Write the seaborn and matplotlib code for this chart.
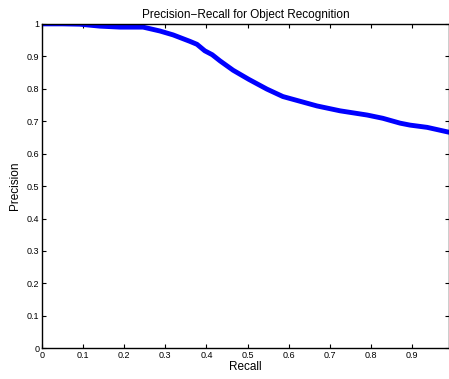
import matplotlib

matplotlib.use("Agg")
import matplotlib.pyplot as plt
import pandas as pd
import seaborn as sns

recall = [0.0, 0.05, 0.092, 0.141, 0.19, 0.246, 0.287, 0.319, 0.36, 0.377,
          0.396, 0.414, 0.433, 0.465, 0.503, 0.547, 0.586, 0.669, 0.725,
          0.791, 0.829, 0.871, 0.895, 0.937, 0.99]
precision = [1.0, 1.0, 0.999, 0.993, 0.99, 0.99, 0.978, 0.966, 0.946, 0.937,
             0.917, 0.905, 0.886, 0.857, 0.829, 0.799, 0.776, 0.747, 0.732,
             0.719, 0.709, 0.694, 0.688, 0.681, 0.666]

x_ticks = [0.0, 0.1, 0.2, 0.3, 0.4, 0.5, 0.6, 0.7, 0.8, 0.9]
x_labels = ["0", "0.1", "0.2", "0.3", "0.4", "0.5", "0.6", "0.7", "0.8", "0.9"]
y_ticks = [0.0, 0.1, 0.2, 0.3, 0.4, 0.5, 0.6, 0.7, 0.8, 0.9, 1.0]
y_labels = ["0", "0.1", "0.2", "0.3", "0.4", "0.5", "0.6", "0.7", "0.8", "0.9", "1"]

sns.set_style("ticks")
plt.rcParams["font.family"] = ["Liberation Sans", "DejaVu Sans"]
plt.rcParams["xtick.direction"] = "in"
plt.rcParams["ytick.direction"] = "in"
plt.rcParams["text.color"] = "black"
plt.rcParams["axes.labelcolor"] = "black"
plt.rcParams["xtick.color"] = "black"
plt.rcParams["ytick.color"] = "black"

data = pd.DataFrame({"Recall": recall, "Precision": precision})

fig = plt.figure(figsize=(4.49, 3.79), dpi=100)
ax = fig.add_axes([0.0935, 0.081, 0.9065, 0.856])
sns.lineplot(data=data, x="Recall", y="Precision", color="#0000ff",
             linewidth=3.5, solid_joinstyle="round", solid_capstyle="round",
             ax=ax)
ax.set_xlim(0, 0.99)
ax.set_ylim(0, 1)
ax.set_xticks(x_ticks, x_labels)
ax.set_yticks(y_ticks, y_labels)
ax.tick_params(axis="both", labelsize=6.5, length=3, width=0.8,
               top=True, right=True, pad=2)
for spine in ax.spines.values():
    spine.set_linewidth(1.0)
    spine.set_color("black")
ax.set_xlabel("Recall", fontsize=8.5, labelpad=1)
ax.set_ylabel("Precision", fontsize=8.5, labelpad=4)
ax.set_title("Precision\u2212Recall for Object Recognition", fontsize=8.5, pad=4)

fig.savefig("out.png", dpi=100)
